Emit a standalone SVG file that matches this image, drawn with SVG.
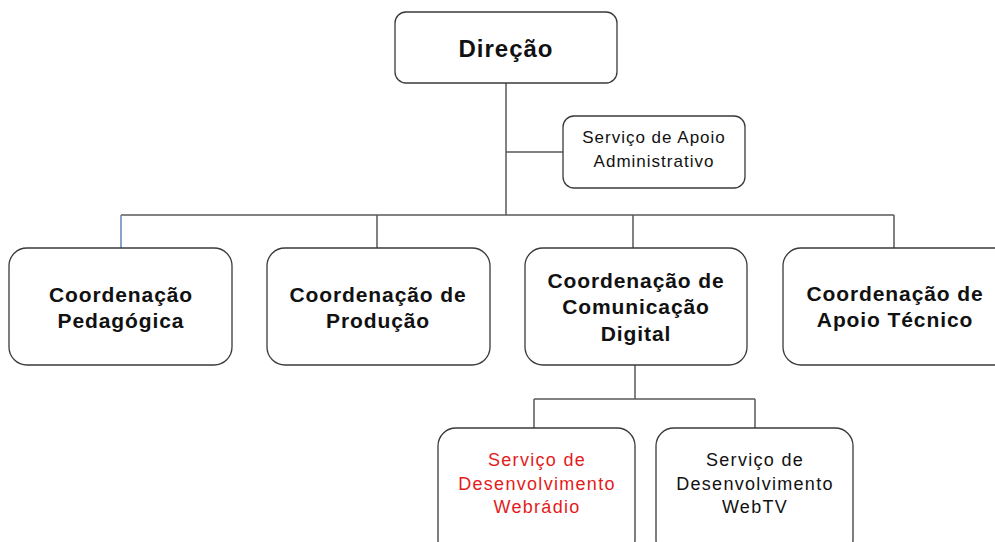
<svg xmlns="http://www.w3.org/2000/svg" width="995" height="542" viewBox="0 0 995 542">
<style>
.box{fill:#fff;stroke:#3a3a3a;stroke-width:1.3}
.ln{stroke:#5a5a5a;stroke-width:1.5;fill:none}
.b{font-family:"Liberation Sans",Arial,sans-serif;font-weight:bold;font-size:21px;letter-spacing:0.9px;fill:#111;text-anchor:middle}
.r{font-family:"Liberation Sans",Arial,sans-serif;font-size:18px;letter-spacing:1.3px;fill:#111;text-anchor:middle}
.red{fill:#e31b1b}
</style>
<rect width="995" height="542" fill="#fff"/>
<g id="connectors">
<path class="ln" d="M506 83V215M506 152H563M121 215H894M377 215V248M633 215V248M894 215V248M635 365V399M534 399H755M534 399V428M755 399V428"/>
<path d="M121 215V248" stroke="#5f86b3" stroke-width="1.5"/>
</g>
<g id="direcao"><rect class="box" x="395" y="12" width="222" height="71" rx="11"/><text class="b" x="506" y="57" style="font-size:24px;letter-spacing:1px">Direção</text></g>
<g id="apoio-adm"><rect class="box" x="563" y="116" width="182" height="72" rx="11"/><text class="r" x="654" y="143" style="font-size:17px;letter-spacing:1px">Serviço de Apoio</text><text class="r" x="654" y="167" style="font-size:17px;letter-spacing:1px">Administrativo</text></g>
<g id="pedagogica"><rect class="box" x="9" y="248" width="223" height="117" rx="18"/><text class="b" x="121" y="302">Coordenação</text><text class="b" x="121" y="328">Pedagógica</text></g>
<g id="producao"><rect class="box" x="267" y="248" width="223" height="117" rx="18"/><text class="b" x="378" y="302">Coordenação de</text><text class="b" x="378" y="328">Produção</text></g>
<g id="comunicacao"><rect class="box" x="525" y="248" width="222" height="117" rx="18"/><text class="b" x="636" y="288">Coordenação de</text><text class="b" x="636" y="314">Comunicação</text><text class="b" x="636" y="341">Digital</text></g>
<g id="apoio-tecnico"><rect class="box" x="783" y="248" width="230" height="117" rx="18"/><text class="b" x="895" y="301">Coordenação de</text><text class="b" x="895" y="327">Apoio Técnico</text></g>
<g id="webradio"><rect class="box" x="438" y="428" width="197" height="130" rx="18"/><text class="r red" x="537" y="466">Serviço de</text><text class="r red" x="537" y="490">Desenvolvimento</text><text class="r red" x="537" y="513">Webrádio</text></g>
<g id="webtv"><rect class="box" x="656" y="428" width="197" height="130" rx="18"/><text class="r" x="755" y="466">Serviço de</text><text class="r" x="755" y="490">Desenvolvimento</text><text class="r" x="755" y="513">WebTV</text></g>
</svg>
